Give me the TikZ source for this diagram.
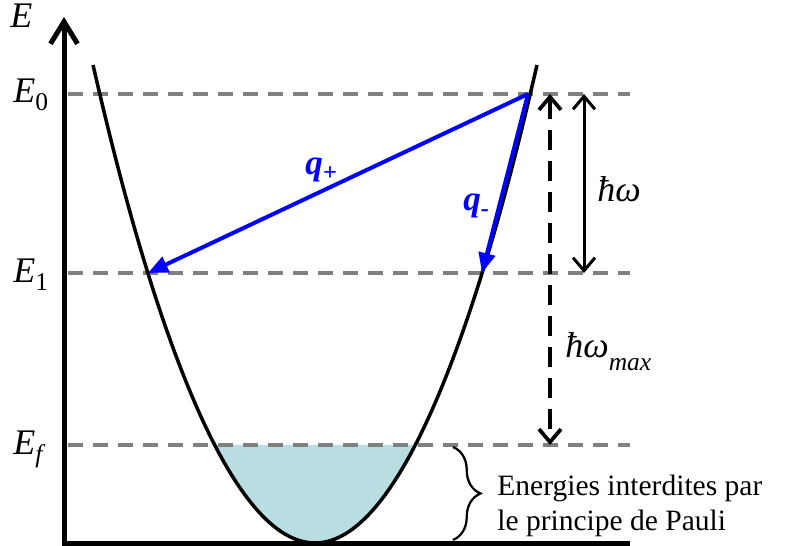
\documentclass[tikz,border=0pt]{standalone}
\usepackage{fontspec}
\setmainfont{Liberation Serif}
\usetikzlibrary{arrows.meta, decorations.pathreplacing}
\definecolor{fermisea}{RGB}{185,222,225}
\newcommand{\lowsub}[2][4pt]{\raisebox{-#1}{\fontsize{14.5}{14.5}\selectfont #2}}

\begin{document}
\begin{tikzpicture}[x=0.02cm, y=-0.02cm,
  level/.style={gray, line width=0.8mm, dash pattern=on 3mm off 2mm},
  trans/.style={blue, line width=0.8mm, -{Triangle[length=4mm,width=3.3mm]}},
  gap/.style={line width=0.6mm, {Straight Barb[length=2.6mm,width=4.4mm]}-{Straight Barb[length=2.6mm,width=4.4mm]}},
  sym/.style={font=\fontsize{20.5}{24}\selectfont\itshape, inner sep=0},
  qlab/.style={blue, font=\fontsize{20}{24}\selectfont\bfseries\itshape, inner sep=0}]
  \useasboundingbox (0,0) rectangle (788,546);

  % Points
  \coordinate (origin) at (64,544);
  \coordinate (top) at (64,17);
  \coordinate (xend) at (630,544);
  \coordinate (start) at (528,94);
  \coordinate (kplus) at (148,273);
  \coordinate (kminus) at (482,273);

  % Filled states below E_f
  \fill[fermisea] (214.4,445) parabola bend (315,543) (415.6,445) -- cycle;

  % Levels
  \draw[level] (68,94) -- (630,94);
  \draw[level] (68,273) -- (630,273);
  \draw[level] (68,445) -- (630,445);

  % Band
  \draw[line width=0.7mm] (93,65) parabola bend (315,543) (537,65);

  % Axes
  \draw[line width=1mm, line join=miter, {Straight Barb[length=4.4mm,width=5.4mm]}-] (top) -- (origin) -- (xend);
  \node[sym, anchor=base west] (lE) at (10,28) {E};
  \node[sym, anchor=base west] (lE0) at (13,103) {E\lowsub{\upshape 0}};
  \node[sym, anchor=base west] (lE1) at (13,283) {E\lowsub{\upshape 1}};
  \node[sym, anchor=base west] (lEf) at (13,455) {E\lowsub{f}};

  % Transitions
  \draw[trans] (start) -- (kplus);
  \draw[trans] (start) -- (kminus);
  \node[qlab, anchor=base west] (qp) at (305,175) {q\textsubscript{+}};
  \node[qlab, anchor=base west] (qm) at (463,211) {q\textsubscript{-}};

  % Energy differences
  \coordinate (w0) at (584,94);
  \coordinate (w1) at (584,273);
  \draw[gap] (w0) -- (w1);
  \node[sym, anchor=base west] (hw) at (597,202) {ħω};
  \coordinate (m0) at (550,94);
  \coordinate (m1) at (550,445);
  \draw[gap, line width=0.75mm, dash pattern=on 4mm off 2.2mm] (m0) -- (m1);
  \node[sym, anchor=base west] (hwmax) at (565,358) {ħω\lowsub[7pt]{max}};

  % Pauli
  \coordinate (b0) at (453,447);
  \coordinate (b1) at (453,540);
  \draw[line width=0.45mm, decorate, decoration={brace, amplitude=5.5mm}] (b0) -- (b1);
  \node[anchor=north west, inner sep=0, align=left, font=\fontsize{16.8}{19.9}\selectfont] (pauli) at (497,475)
    {Energies interdites par\\le principe de Pauli};
\end{tikzpicture}
\end{document}
